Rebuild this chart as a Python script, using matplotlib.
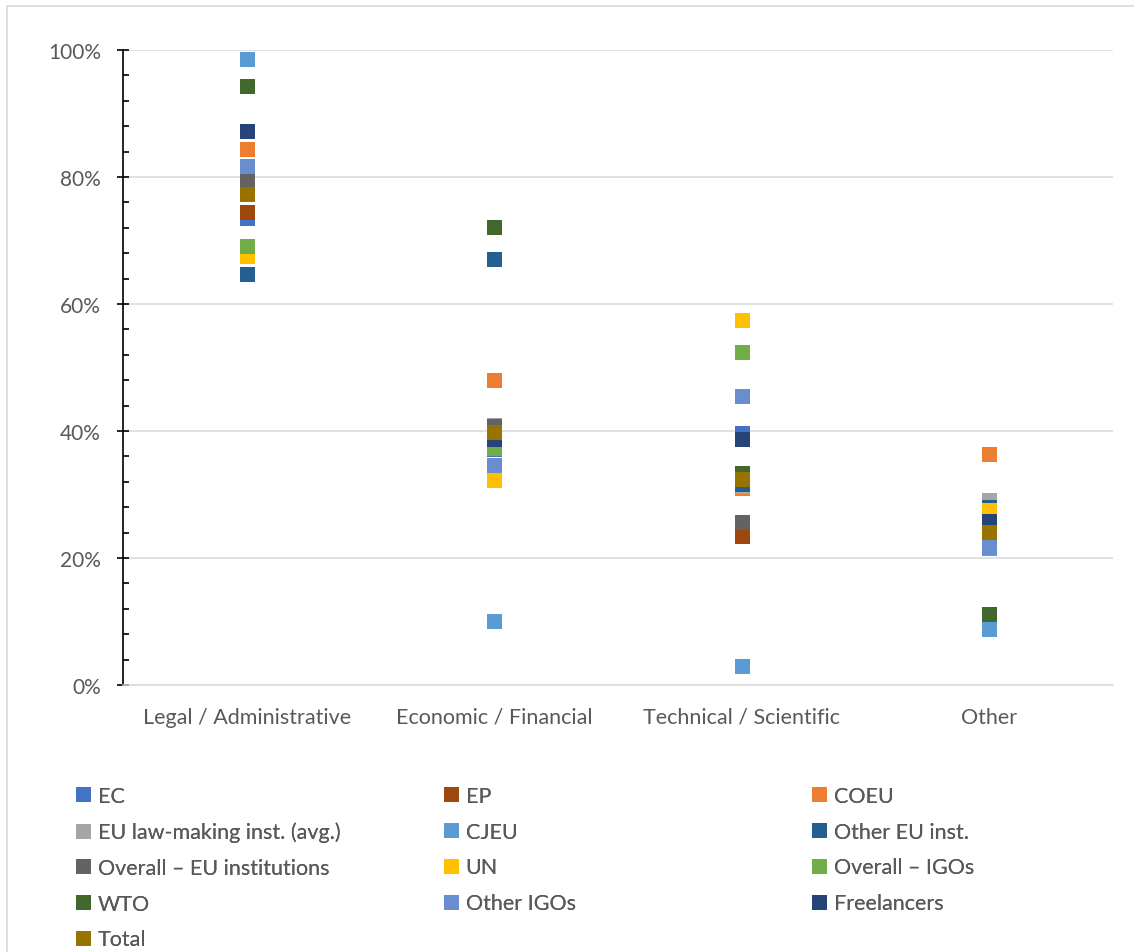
import matplotlib
matplotlib.use("Agg")
import matplotlib.pyplot as plt
from matplotlib.ticker import MultipleLocator, PercentFormatter
from matplotlib.patches import Rectangle

plt.rcParams['font.family'] = ['Lato', 'DejaVu Sans']

categories = ["Legal / Administrative", "Economic / Financial",
              "Technical / Scientific", "Other"]

# share of respondents per domain, in percent
series_names = ["EC", "EP", "COEU", "EU law-making inst. (avg.)", "CJEU",
                "Other EU inst.", "Overall \u2013 EU institutions", "UN",
                "Overall \u2013 IGOs", "WTO", "Other IGOs", "Freelancers", "Total"]
ec = [73.6, 37.2, 39.7, 26.0]
ep = [74.5, 37.4, 23.4, 25.2]
coeu = [84.4, 48.1, 31.1, 36.4]
eu_avg = [77.5, 40.9, 31.4, 29.2]
cjeu = [98.6, 10.1, 3.0, 8.8]
other_eu = [64.7, 67.1, 31.6, 28.1]
overall_eu = [79.3, 40.8, 25.6, 27.0]
un = [67.5, 32.3, 57.5, 27.6]
overall_igo = [69.2, 37.4, 52.4, 21.5]
wto = [94.4, 72.2, 33.4, 11.2]
other_igo = [81.8, 34.6, 45.5, 21.8]
freelancers = [87.2, 38.8, 38.7, 25.9]
total = [77.4, 39.8, 32.4, 24.1]

series_values = [ec, ep, coeu, eu_avg, cjeu, other_eu, overall_eu, un,
                 overall_igo, wto, other_igo, freelancers, total]
colors = ["#4472C4", "#9E480E", "#ED7D31", "#A5A5A5", "#5B9BD5", "#255E91",
          "#636363", "#FFC000", "#70AD47", "#43682B", "#698ED0", "#264478",
          "#997300"]

text_color = "#595959"
grid_color = "#D9D9D9"

fig = plt.figure(figsize=(11.34, 9.53), dpi=100)
ax = fig.add_axes([123 / 1134, 1 - 686 / 953, 990 / 1134, 635 / 953])

# light frame round the chart area
fig.patches.append(Rectangle((7 / 1134, -0.1), 1.2, 1 - 7 / 953 + 0.1,
                             transform=fig.transFigure, fill=False,
                             edgecolor=grid_color, linewidth=1.2))

handles = []
x = range(len(categories))
for name, vals, col in zip(series_names, series_values, colors):
    h, = ax.plot(x, vals, linestyle="none", marker="s", markersize=10.8,
                 color=col, markeredgewidth=0, label=name)
    handles.append(h)

ax.set_xlim(-0.5, len(categories) - 0.5)
ax.set_ylim(0, 100)
ax.set_xticks(list(x))
ax.set_xticklabels(categories)
ax.yaxis.set_major_locator(MultipleLocator(20))
ax.yaxis.set_minor_locator(MultipleLocator(4))
ax.yaxis.set_major_formatter(PercentFormatter(decimals=0))

ax.grid(True, axis="y", which="major", color=grid_color, linewidth=1.1)
ax.set_axisbelow(True)
for side in ["top", "right"]:
    ax.spines[side].set_visible(False)
ax.spines["bottom"].set_color(grid_color)
ax.spines["bottom"].set_linewidth(1.1)
ax.spines["left"].set_color("black")
ax.spines["left"].set_linewidth(1.2)

ax.tick_params(axis="x", length=0, pad=15.5, labelsize=15.5, labelcolor=text_color)
ax.tick_params(axis="y", which="major", direction="inout", length=9,
               width=1.2, pad=11.5, labelsize=15, labelcolor=text_color)
ax.tick_params(axis="y", which="minor", direction="in", length=4.5, width=1.2)

# legend laid out in three columns, filled row by row
col_left = [75, 443, 811]
for i in range(3):
    leg = fig.legend(handles=handles[i::3], loc="upper left",
                     bbox_to_anchor=(col_left[i] / 1134, 1 - 787 / 953),
                     frameon=False, fontsize=15.5, labelcolor=text_color,
                     handlelength=0.75, handletextpad=0.3, labelspacing=0.73,
                     borderpad=0, borderaxespad=0)
    fig.add_artist(leg)

fig.savefig("out.png", dpi=100)
